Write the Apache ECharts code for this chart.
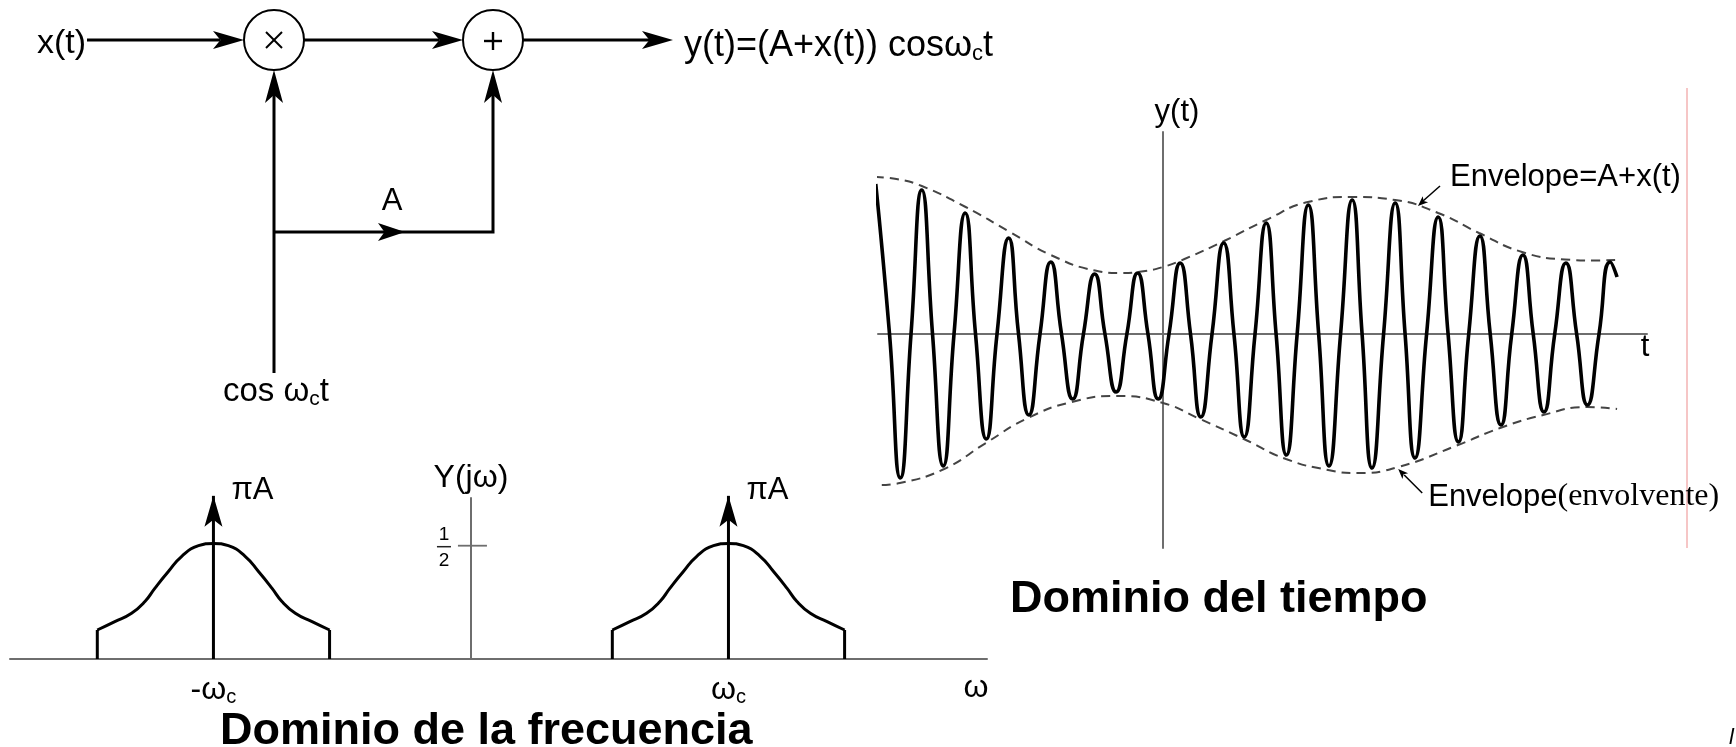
<!DOCTYPE html>
<html>
<head>
<meta charset="utf-8">
<script src="https://cdn.jsdelivr.net/npm/echarts@6/dist/echarts.min.js"></script>
<style>
html,body{margin:0;padding:0;background:#fff;}
#c{width:1736px;height:747px;}
</style>
</head>
<body>
<div id="c"></div>
<script>
// ---------- time domain (t in carrier periods, y in plot units) ----------
// carrier: extrema and axis crossings
const waveT = [-6.68,-6.36,-6.11,-5.86,-5.61,-5.36,-5.11,-4.86,-4.60,-4.36,-4.11,-3.86,-3.59,-3.36,-3.12,-2.86,
  -2.61,-2.36,-2.10,-1.85,-1.59,-1.35,-1.09,-0.84,-0.59,-0.35,-0.11,0.14,0.40,0.64,0.88,1.14,1.41,1.65,1.89,2.14,
  2.40,2.63,2.87,3.12,3.38,3.62,3.86,4.13,4.40,4.63,4.86,5.13,5.40,5.63,5.86,6.13,6.40,6.63,6.87,7.11,7.37,7.61,
  7.86,8.11,8.37,8.61,8.86,9.11,9.37,9.62,9.87,10.14,10.40,10.56];
const waveY = [1.50,0,-1.44,0,1.44,0,-1.32,0,1.21,0,-1.05,0,0.96,0,-0.81,0,
  0.72,0,-0.65,0,0.60,0,-0.58,0,0.61,0,-0.65,0,0.71,0,-0.83,0,0.91,0,-1.03,0,
  1.11,0,-1.21,0,1.29,0,-1.32,0,1.34,0,-1.34,0,1.31,0,-1.24,0,1.17,0,-1.08,0,0.98,0,
  -0.91,0,0.79,0,-0.78,0,0.71,0,-0.71,0,0.72,0.57];
// envelope A + x(t) (upper) and its mirror (lower)
const envTopT = [-6.70,-6.20,-5.61,-4.59,-3.56,-2.61,-1.58,-1.00,-0.50,0,0.50,1.42,2.40,3.37,4.40,5.40,6.40,7.35,8.35,9.35,10.00,10.56];
const envTopY = [1.57,1.55,1.48,1.27,1.02,0.79,0.635,0.61,0.625,0.67,0.75,0.93,1.14,1.32,1.37,1.34,1.21,1.01,0.82,0.745,0.735,0.74];
const envBotT = [-6.54,-6.12,-5.09,-4.12,-3.14,-2.12,-1.07,0,0.86,1.88,2.86,3.84,4.51,5.47,6.86,7.84,8.84,9.86,10.56];
const envBotY = [-1.51,-1.49,-1.35,-1.09,-0.84,-0.68,-0.62,-0.69,-0.85,-1.05,-1.25,-1.36,-1.39,-1.33,-1.11,-0.94,-0.81,-0.73,-0.75];
const noteTop = [5.93, 1.28];   // where the "Envelope=A+x(t)" arrow meets the envelope
const noteBot = [5.47, -1.35];  // where the lower "Envelope" arrow meets the envelope

// ---------- frequency domain (omega in units of omega_c) ----------
const carrierFreqs = [-1, 1];
const impulseHeight = 0.72;
const bandOffsets = [-0.451,-0.451,-0.383,-0.318,-0.266,-0.227,-0.175,-0.123,-0.058,0,0.058,0.123,0.175,0.227,0.266,0.318,0.383,0.451,0.451];
const bandHeights = [0,0.128,0.165,0.202,0.254,0.313,0.386,0.453,0.50,0.51,0.50,0.453,0.386,0.313,0.254,0.202,0.165,0.128,0];
const halfTick = 0.5;
const freqTickLabels = ['-ω', 'ω'];

// ---------- styling ----------
const FONT = '"Liberation Sans", Arial, Helvetica, sans-serif';
const SERIF = '"Liberation Serif", "Times New Roman", serif';
const AXIS = '#6e6e6e';
const ARROW_PATH = 'path://M0,0L9,31L0,24L-9,31Z';

const chart = echarts.init(document.getElementById('c'), null, {renderer: 'canvas'});
const pairs = (xs, ys) => xs.map((x, i) => [x, ys[i]]);

const series = [];
// time domain
const dash = {color:'#444', width:2, type:[9,6]};
series.push({type:'line', xAxisIndex:0, yAxisIndex:0, data: pairs(envTopT, envTopY), smooth:0.5, symbol:'none', clip:false, lineStyle:dash, z:2});
series.push({type:'line', xAxisIndex:0, yAxisIndex:0, data: pairs(envBotT, envBotY), smooth:0.5, symbol:'none', clip:false, lineStyle:dash, z:2});
series.push({type:'line', xAxisIndex:0, yAxisIndex:0, data: pairs(waveT, waveY), smooth:0.55, symbol:'none', clip:false,
  lineStyle:{color:'#000', width:3.6}, z:3});

// frequency domain
carrierFreqs.forEach(fc => {
  const pts = bandOffsets.map((o, i) => [fc + o, bandHeights[i]]);
  const n = pts.length;
  const ls = {color:'#000', width:3};
  series.push({type:'line', xAxisIndex:1, yAxisIndex:1, data: pts.slice(1, n - 1), smooth:0.5, symbol:'none', clip:false, lineStyle:ls, z:3});
  series.push({type:'line', xAxisIndex:1, yAxisIndex:1, data: pts.slice(0, 2), symbol:'none', clip:false, lineStyle:ls, z:3});
  series.push({type:'line', xAxisIndex:1, yAxisIndex:1, data: pts.slice(n - 2), symbol:'none', clip:false, lineStyle:ls, z:3});
  series.push({type:'line', xAxisIndex:1, yAxisIndex:1, symbol:'none', clip:false, lineStyle:ls, z:4,
    data: [[fc, 0], {value:[fc, impulseHeight], symbol: ARROW_PATH, symbolSize:[18,31], symbolOffset:[0,'50%'],
      itemStyle:{color:'#000'},
      label:{show:true, position:'right', distance:9, offset:[0,-21], formatter:'πA',
        fontFamily:FONT, fontSize:31, color:'#000'}}]});
});

const tickRich = {
  m:{fontFamily:FONT, fontSize:32, lineHeight:34, color:'#000'},
  s:{fontFamily:FONT, fontSize:20, lineHeight:20, verticalAlign:'bottom', color:'#000'}
};

const option = {
  backgroundColor:'#fff',
  animation:false,
  grid:[
    {left:878, top:132, width:769, height:416},
    {left:10, top:498, width:977, height:161}
  ],
  xAxis:[
    {gridIndex:0, type:'value', min:-6.628, max:11.256,
      axisLine:{show:true, onZero:true, lineStyle:{color:AXIS, width:2}},
      axisTick:{show:false}, axisLabel:{show:false}, splitLine:{show:false}},
    {gridIndex:1, type:'value', min:-1.790, max:2.004,
      axisLine:{show:true, onZero:true, lineStyle:{color:AXIS, width:2}},
      axisTick:{show:false}, splitLine:{show:false},
      axisLabel:{show:true, customValues: carrierFreqs, margin:14,
        formatter: v => '{m|' + freqTickLabels[carrierFreqs.indexOf(v)] + '}{s|c}', rich: tickRich}}
  ],
  yAxis:[
    {gridIndex:0, type:'value', min:-2.14, max:2.02,
      axisLine:{show:true, onZero:true, lineStyle:{color:AXIS, width:2}},
      axisTick:{show:false}, axisLabel:{show:false}, splitLine:{show:false},
      name:'y(t)', nameLocation:'end', nameGap:4,
      nameTextStyle:{fontFamily:FONT, fontSize:31, color:'#000', padding:[0,0,0,28]}},
    {gridIndex:1, type:'value', min:0, max:0.7105,
      axisLine:{show:true, onZero:true, lineStyle:{color:AXIS, width:2}},
      axisTick:{show:false}, axisLabel:{show:false}, splitLine:{show:false},
      name:'Y(jω)', nameLocation:'end', nameGap:4,
      nameTextStyle:{fontFamily:FONT, fontSize:32, color:'#000'}}
  ],
  series: series
};
chart.setOption(option);

// ---------- annotations / block diagram ----------
function head(tip, from, len, half) {
  const dx = tip[0] - from[0], dy = tip[1] - from[1];
  const L = Math.hypot(dx, dy), ux = dx / L, uy = dy / L, px = -uy, py = ux, nd = len * 0.76;
  return {type:'polygon', z:20, silent:true, style:{fill:'#000'},
    shape:{points:[[tip[0], tip[1]],
      [tip[0] - ux*len + px*half, tip[1] - uy*len + py*half],
      [tip[0] - ux*nd, tip[1] - uy*nd],
      [tip[0] - ux*len - px*half, tip[1] - uy*len - py*half]]}};
}
function seg(a, b, w, color) {
  return {type:'line', z:15, silent:true, shape:{x1:a[0], y1:a[1], x2:b[0], y2:b[1]},
    style:{stroke:color || '#000', lineWidth:w || 3}};
}
function txt(text, x, y, size, opts) {
  opts = opts || {};
  return {type:'text', z:20, silent:true, style:Object.assign({text:text, x:x, y:y, fill:'#000',
    fontFamily:FONT, fontSize:size, textAlign:'left', textVerticalAlign:'middle'}, opts)};
}
const G = [];
// block diagram
const yM = 40, c1 = [274, 40], c2 = [493, 40], R = 30, bY = 232;
G.push(seg([87, yM], [220, yM]));  G.push(head([c1[0]-R, yM], [0, yM], 31, 9));
G.push({type:'circle', z:15, shape:{cx:c1[0], cy:c1[1], r:R}, style:{fill:'#fff', stroke:'#000', lineWidth:2}});
G.push(seg([c1[0]-8, c1[1]-8], [c1[0]+8, c1[1]+8], 2));
G.push(seg([c1[0]-8, c1[1]+8], [c1[0]+8, c1[1]-8], 2));
G.push(seg([c1[0]+R, yM], [c2[0]-R-24, yM]));  G.push(head([c2[0]-R, yM], [0, yM], 31, 9));
G.push({type:'circle', z:15, shape:{cx:c2[0], cy:c2[1], r:R}, style:{fill:'#fff', stroke:'#000', lineWidth:2}});
G.push(seg([c2[0]-9, c2[1]+1], [c2[0]+9, c2[1]+1], 2.4));
G.push(seg([c2[0], c2[1]-8], [c2[0], c2[1]+10], 2.4));
G.push(seg([c2[0]+R, yM], [650, yM]));  G.push(head([673, yM], [0, yM], 31, 9));
G.push(seg([c1[0], 373], [c1[0], c1[1]+R+24]));  G.push(head([c1[0], c1[1]+R], [c1[0], 400], 33, 9));
G.push({type:'polyline', z:15, shape:{points:[[c1[0], bY], [c2[0], bY], [c2[0], c2[1]+R+24]]},
  style:{stroke:'#000', lineWidth:3, fill:null}});
G.push(head([c2[0], c2[1]+R], [c2[0], 400], 33, 9));
G.push(head([405, bY], [0, bY], 27, 9));
G.push(txt('x(t)', 86, 44, 34, {textAlign:'right'}));
G.push(txt('A', 392, 201, 31, {textAlign:'center'}));
G.push(txt('{m|y(t)=(A+x(t)) cosω}{s|c}{m|t}', 684, 46, 36, {rich:{
  m:{fontFamily:FONT, fontSize:36, lineHeight:38, fill:'#000'},
  s:{fontFamily:FONT, fontSize:22, lineHeight:26, verticalAlign:'bottom', fill:'#000'}}}));
G.push(txt('{m|cos ω}{s|c}{m|t}', 223, 392, 33, {rich:{
  m:{fontFamily:FONT, fontSize:33, lineHeight:36, fill:'#000'},
  s:{fontFamily:FONT, fontSize:21, lineHeight:16, verticalAlign:'bottom', fill:'#000'}}}));

// axis names placed from axis ends
const tEnd = chart.convertToPixel({gridIndex:0}, [11.256, 0]);
G.push(txt('t', tEnd[0]-2, tEnd[1]+13, 31, {textAlign:'center'}));
const wEnd = chart.convertToPixel({gridIndex:1}, [2.004, 0]);
G.push(txt('ω', wEnd[0]-11, wEnd[1]+29, 32, {textAlign:'center'}));

// frequency-domain 1/2 tick
const hp = chart.convertToPixel({gridIndex:1}, [0, halfTick]);
G.push(seg([hp[0]-13, hp[1]], [hp[0]+16, hp[1]], 1.8, AXIS));
G.push(txt('1', hp[0]-27, hp[1]-11, 19, {textAlign:'center'}));
G.push(seg([hp[0]-34, hp[1]+1], [hp[0]-20, hp[1]+1], 1.5, '#222'));
G.push(txt('2', hp[0]-27, hp[1]+15, 19, {textAlign:'center'}));

// envelope notes
const pt = chart.convertToPixel({gridIndex:0}, noteTop);
G.push(seg([pt[0]+22, pt[1]-20], [pt[0]+5, pt[1]-5], 1.5));
G.push(head(pt, [pt[0]+22, pt[1]-20], 10, 4));
G.push(txt('Envelope=A+x(t)', pt[0]+32, pt[1]-29, 31));
const pb = chart.convertToPixel({gridIndex:0}, noteBot);
G.push(seg([pb[0]+24, pb[1]+24], [pb[0]+6, pb[1]+6], 1.5));
G.push(head(pb, [pb[0]+24, pb[1]+24], 10, 4));
G.push(txt('{a|Envelope}{b|(envolvente)}', pb[0]+30, pb[1]+28, 31, {rich:{
  a:{fontFamily:FONT, fontSize:31, lineHeight:36, fill:'#000'},
  b:{fontFamily:SERIF, fontSize:32, lineHeight:36, fill:'#000'}}}));

// titles
G.push(txt('Dominio de la frecuencia', 220, 732, 45, {fontWeight:'bold'}));
G.push(txt('Dominio del tiempo', 1010, 600, 45, {fontWeight:'bold'}));

// page edge marks
G.push(seg([1687, 88], [1687, 548], 1.5, '#f3b3b3'));
G.push(txt('l', 1729, 738, 22, {fontStyle:'italic'}));

chart.setOption({graphic: G});
</script>
</body>
</html>
